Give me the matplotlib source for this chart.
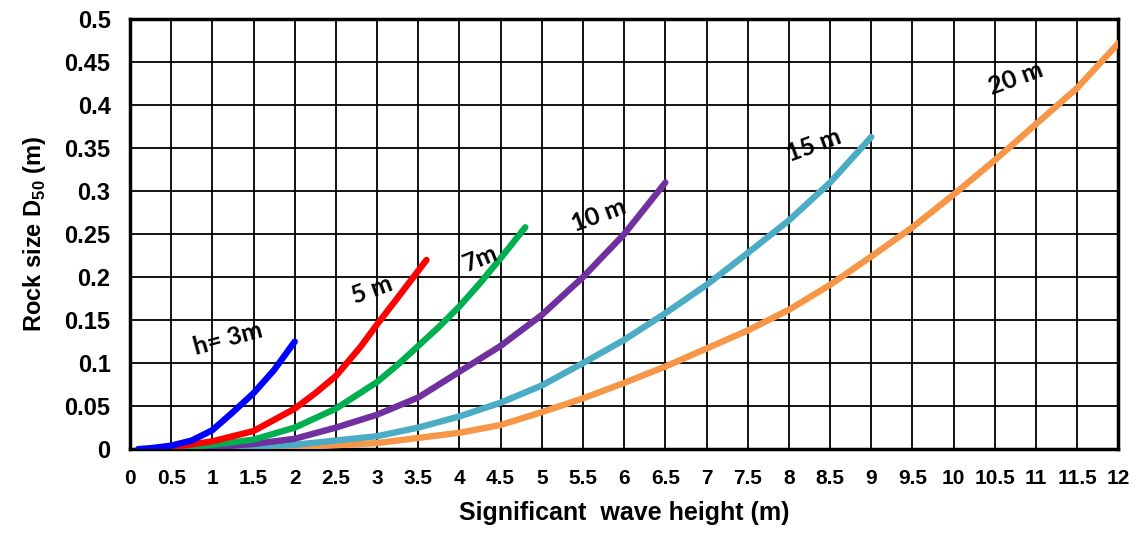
import numpy as np
import matplotlib
matplotlib.use("Agg")
import matplotlib.pyplot as plt

plt.rcParams['font.family'] = ['Liberation Sans', 'DejaVu Sans']
plt.rcParams['mathtext.fontset'] = 'custom'
plt.rcParams['mathtext.rm'] = 'Liberation Sans:bold'
plt.rcParams['mathtext.bf'] = 'Liberation Sans:bold'

# wave height Hs (m) vs median rock size D50 (m), one curve per water depth
hs_3 = [0.1, 0.25, 0.5, 0.75, 1.0, 1.25, 1.5, 1.75, 2.0]
d50_3 = [0.0, 0.001, 0.004, 0.01, 0.022, 0.043, 0.065, 0.092, 0.125]

hs_5 = [0.2, 0.5, 1.0, 1.5, 2.0, 2.25, 2.5, 2.8, 3.0, 3.25, 3.6]
d50_5 = [0.0, 0.002, 0.009, 0.021, 0.047, 0.065, 0.085, 0.119, 0.145, 0.176, 0.22]

hs_7 = [0.35, 0.5, 1.0, 1.5, 2.0, 2.5, 3.0, 3.25, 3.5, 3.75, 4.0, 4.25, 4.5, 4.8]
d50_7 = [0.0, 0.001, 0.005, 0.011, 0.025, 0.047, 0.078, 0.098, 0.12, 0.142, 0.166, 0.193, 0.222, 0.258]

hs_10 = [0.4, 1.0, 1.5, 2.0, 2.5, 3.0, 3.5, 4.0, 4.5, 5.0, 5.5, 6.0, 6.5]
d50_10 = [0.0, 0.002, 0.006, 0.012, 0.025, 0.04, 0.06, 0.09, 0.12, 0.156, 0.2, 0.25, 0.31]

hs_15 = [0.5, 1.0, 2.0, 3.0, 3.5, 4.0, 4.5, 5.0, 5.5, 6.0, 6.5, 7.0, 7.5, 8.0, 8.5, 9.0]
d50_15 = [0.0, 0.001, 0.005, 0.015, 0.025, 0.038, 0.054, 0.074, 0.1, 0.127, 0.158, 0.191, 0.228, 0.266, 0.31, 0.363]

hs_20 = [0.5, 1.0, 2.0, 3.0, 4.0, 4.5, 5.0, 5.5, 6.0, 6.5, 7.0, 7.5, 8.0, 8.5, 9.0, 9.5, 10.0, 10.5, 11.0, 11.5, 12.0]
d50_20 = [0.0, 0.0005, 0.002, 0.007, 0.019, 0.028, 0.043, 0.059, 0.077, 0.096, 0.117, 0.138, 0.162, 0.191, 0.224, 0.258, 0.296, 0.336, 0.378, 0.42, 0.472]

curves = [
    (hs_20, d50_20, '#f79646'),
    (hs_15, d50_15, '#4bacc6'),
    (hs_10, d50_10, '#7030a0'),
    (hs_7, d50_7, '#00b050'),
    (hs_5, d50_5, '#ff0000'),
    (hs_3, d50_3, '#0000ff'),
]

# depth labels: text, x, y, angle
labels = [
    ("h= 3m", 1.19, 0.129, 15),
    ("5 m", 2.94, 0.185, 20),
    ("7m", 4.26, 0.222, 22),
    ("10 m", 5.69, 0.272, 20),
    ("15 m", 8.3, 0.353, 20),
    ("20 m", 10.75, 0.431, 20),
]

fig = plt.figure(figsize=(11.4, 5.34), dpi=100)
ax = fig.add_axes([0.114, 0.159, 0.867, 0.805])

for x, y, c in curves:
    ax.plot(x, y, color=c, lw=4.6, solid_capstyle='round', solid_joinstyle='round', zorder=3)

for txt, x, y, ang in labels:
    ax.text(x, y, txt, rotation=ang, ha='center', va='center', fontsize=18,
            fontweight='bold', family=['Lato', 'DejaVu Sans'], zorder=4)

xt = np.arange(0, 12.01, 0.5)
yt = np.arange(0, 0.501, 0.05)
ax.set_xlim(0, 12)
ax.set_ylim(0, 0.5)
ax.set_xticks(xt)
ax.set_yticks(yt)
ax.set_xticklabels(['%g' % v for v in xt], fontsize=15, fontweight='bold')
ax.set_yticklabels(['%g' % round(v, 2) for v in yt], fontsize=17, fontweight='bold')
ax.tick_params(axis='x', length=0, pad=14)
ax.tick_params(axis='y', length=0, pad=14)
ax.grid(True, color='black', lw=1.3)
ax.set_axisbelow(True)
for s in ax.spines.values():
    s.set_linewidth(2.5)

ax.set_xlabel("Significant  wave height (m)", fontsize=18, fontweight='bold', labelpad=10)
ax.set_ylabel(r"Rock size D$_\mathbf{50}$ (m)", fontsize=17, fontweight='bold', labelpad=12)

fig.savefig("out.png", dpi=100)
